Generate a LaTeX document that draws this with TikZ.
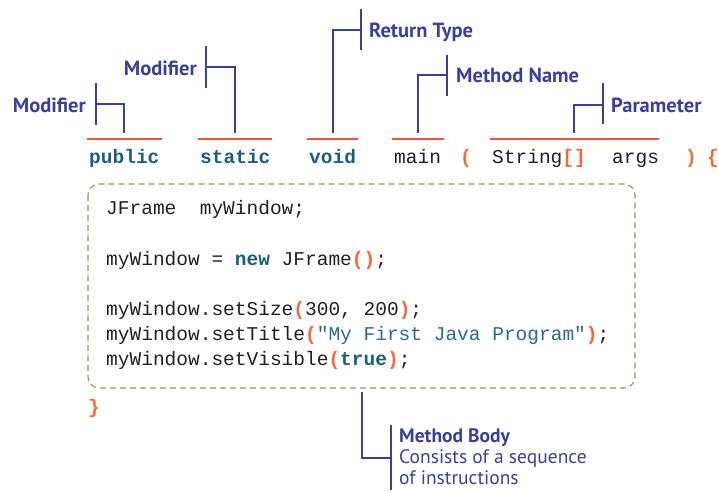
\documentclass[tikz,border=0pt]{standalone}
\usepackage{fontspec}
\setmainfont{PT Sans}
\newfontfamily\codefont{Liberation Mono}
\usetikzlibrary{positioning}

\definecolor{lblblue}{HTML}{3B3F98}
\definecolor{ulred}{HTML}{F0553A}
\definecolor{kwteal}{HTML}{1B5E78}
\definecolor{brorange}{HTML}{F26A3B}
\definecolor{strteal}{HTML}{2A6A8A}
\definecolor{boxolive}{HTML}{8A9A5B}
\definecolor{codeblack}{HTML}{231F20}

\newcommand{\kw}[1]{\textcolor{kwteal}{\bfseries #1}}
\newcommand{\br}[1]{\textcolor{brorange}{\bfseries #1}}
\newcommand{\str}[1]{\textcolor{strteal}{#1}}

\tikzset{
  code/.style={inner sep=0pt, anchor=base west, text=codeblack,
    font=\codefont\fontsize{19.5}{25}\selectfont},
  lbl/.style={inner sep=0pt, text=lblblue,
    font=\bfseries\fontsize{20.5}{23}\selectfont},
  brk/.style={draw=lblblue, line width=1.8pt},
  uline/.style={draw=ulred, line width=1.3pt},
}

\begin{document}
\begin{tikzpicture}[x=1pt,y=-1pt]
	\useasboundingbox (0,0) rectangle (719,491);
	% method header
	\node[code] (public) at (89,163) {\kw{public}};
	\node[code] (static) at (200,163) {\kw{static}};
	\node[code] (void) at (309,163) {\kw{void}};
	\node[code] (main) at (394,163) {main};
	\node[code] (lpar) at (460,163) {\br{(}};
	\node[code] (strarr) at (492,163) {String\br{[]}};
	\node[code] (args) at (612,163) {args};
	\node[code] (rpar) at (685,163) {\br{)}};
	\node[code] (lbrace) at (707,163) {\br{\{}};
	% underlines
	\draw[uline] (87,139) -- (162,139);
	\draw[uline] (198,139) -- (272,139);
	\draw[uline] (307,139) -- (358,139);
	\draw[uline] (392,139) -- (444,139);
	\draw[uline] (490,139) -- (659,139);
	% body
	\draw[draw=boxolive, line width=1.1pt, dash pattern=on 6pt off 4pt, rounded corners=11pt]
		(88,184) rectangle (635,388);
	\node[code] (line1) at (106,214) {JFrame~~myWindow;};
	\node[code] (line2) at (106,265) {myWindow = \kw{new} JFrame\br{()};};
	\node[code] (line3) at (106,315) {myWindow.setSize\br{(}300, 200\br{)};};
	\node[code] (line4) at (106,340) {myWindow.setTitle\br{(}\str{"My First Java Program"}\br{)};};
	\node[code] (line5) at (106,365) {myWindow.setVisible\br{(}\kw{true}\br{)};};
	\node[code] (rbrace) at (88,413) {\br{\}}};
	% labels
	\node[lbl, anchor=base east] (modA) at (86,112) {Modifier};
	\node[lbl, anchor=base east] (modB) at (197,75) {Modifier};
	\node[lbl, anchor=base west] (rettype) at (369,37) {Return Type};
	\node[lbl, anchor=base west] (methname) at (456,82) {Method Name};
	\node[lbl, anchor=base west] (param) at (611,112) {Parameter};
	\node[lbl, anchor=base west, align=left, font=\fontsize{19.5}{21}\selectfont] (body) at (399,484)
		{\textbf{Method Body}\\Consists of a sequence\\of instructions};
	% brackets
	\coordinate (modAbar) at (96,104);
	\coordinate (modBbar) at (206,67);
	\coordinate (retbar) at (361,30);
	\coordinate (namebar) at (447,75);
	\coordinate (parbar) at (603,105);
	\coordinate (bodybar) at (391,458);
	\draw[brk] (modAbar) ++(0,-21) -- ++(0,42);
	\draw[brk] (modBbar) ++(0,-21) -- ++(0,42);
	\draw[brk] (retbar) ++(0,-21) -- ++(0,41);
	\draw[brk] (namebar) ++(0,-20) -- ++(0,41);
	\draw[brk] (parbar) ++(0,-22) -- ++(0,41);
	\draw[brk] (bodybar) ++(0,-33) -- ++(0,65);
	\draw[brk] (modAbar) -| (public.center |- 0,133);
	\draw[brk] (modBbar) -| (static.center |- 0,133);
	\draw[brk] (retbar) -| (333,133);
	\draw[brk] (namebar) -| (418,133);
	\draw[brk] (parbar) -| (574,133);
	\draw[brk] (bodybar) -| (362,392);
\end{tikzpicture}
\end{document}
